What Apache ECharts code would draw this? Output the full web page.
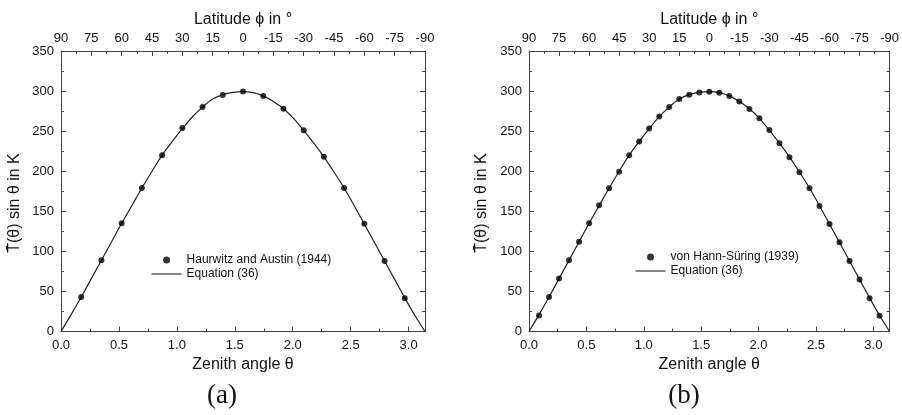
<!DOCTYPE html>
<html>
<head>
<meta charset="utf-8">
<script src="https://cdn.jsdelivr.net/npm/echarts@6/dist/echarts.min.js"></script>
<style>
  html, body { margin: 0; padding: 0; background: #fff; }
  #chart { width: 902px; height: 415px; }
</style>
</head>
<body>
<div id="chart"></div>
<script>
// Equation (36) curve, sampled every 5 degrees of latitude
const eqLatitudes = [90, 85, 80, 75, 70, 65, 60, 55, 50, 45, 40, 35, 30, 25, 20, 15, 10, 5, 0,
  -5, -10, -15, -20, -25, -30, -35, -40, -45, -50, -55, -60, -65, -70, -75, -80, -85, -90];
const eqValues = [0, 21, 43, 66, 89, 112, 135, 157, 179, 200, 220, 237, 253, 268, 280, 290, 295.5, 298.3, 299.3,
  298, 294, 287, 278, 266, 251, 235, 218, 199, 179, 157, 134, 111, 88, 65, 42, 20, 0];

// Haurwitz and Austin (1944), every 10 degrees
const haurwitzLatitudes = [80, 70, 60, 50, 40, 30, 20, 10, 0, -10, -20, -30, -40, -50, -60, -70, -80];
const haurwitzValues = [43, 89, 135, 179, 220, 254, 280, 295, 299.5, 294, 278, 251, 218, 179, 134.5, 88, 41.5];

// von Hann-Süring (1939), every 5 degrees
const hannLatitudes = [85, 80, 75, 70, 65, 60, 55, 50, 45, 40, 35, 30, 25, 20, 15, 10, 5, 0,
  -5, -10, -15, -20, -25, -30, -35, -40, -45, -50, -55, -60, -65, -70, -75, -80, -85];
const hannValues = [20, 43, 66, 89, 112, 135, 157.5, 178.6, 199.4, 220, 237, 253.4, 268.4, 280, 290, 295.4, 298.3, 299,
  298, 293.7, 287, 277.5, 266, 251.3, 235, 217.3, 198.6, 178.6, 156.6, 134.2, 111.3, 88, 64.8, 41.5, 19.5];

const latitudeTicks = { min: -90, max: 90, step: 15 };
const zenithTicks = { min: 0, step: 0.5 };
const tempTicks = { min: 0, max: 350, step: 50 };

const labels = {
  top: 'Latitude \u03d5 in \u00b0',
  bottom: 'Zenith angle \u03b8',
  left: 'T\u0304(\u03b8) sin \u03b8 in K',
  panels: ['(a)', '(b)'],
  eq: 'Equation (36)',
  obs: ['Haurwitz and Austin (1944)', 'von Hann-S\u00fcring (1939)']
};

// zenith angle (rad) from latitude (deg)
const toZenith = lat => (90 - lat) * Math.PI / 180;
const pairs = (lats, vals) => lats.map((lat, i) => [toZenith(lat), vals[i]]);

const FONT = '"Liberation Sans", Arial, sans-serif';
const INK = '#111';
const AXIS = '#444';

const panels = [
  { left: 61, obs: pairs(haurwitzLatitudes, haurwitzValues), name: labels.obs[0], legendLeft: 151, legendTop: 254, tag: labels.panels[0], tagX: 222, titleX: 15 },
  { left: 529, obs: pairs(hannLatitudes, hannValues), name: labels.obs[1], legendLeft: 635, legendTop: 251, tag: labels.panels[1], tagX: 684, titleX: 482 }
];
const GW = 364, GT = 51, GH = 280.5;

const tickCommon = {
  axisLine: { show: true, onZero: false, lineStyle: { color: AXIS, width: 1 } },
  axisTick: { show: true, inside: true, length: 5, lineStyle: { color: AXIS } },
  minorTick: { show: true, splitNumber: 2, length: 3, lineStyle: { color: AXIS } },
  splitLine: { show: false },
  minorSplitLine: { show: false }
};
const labelStyle = { color: INK, fontFamily: FONT, fontSize: 13 };
const nameStyle = { color: INK, fontFamily: FONT, fontSize: 16 };

const grid = [], xAxis = [], yAxis = [], series = [], legend = [], graphic = [];

panels.forEach((p, k) => {
  grid.push({ left: p.left, top: GT, width: GW, height: GH });
  // bottom: zenith angle
  xAxis.push(Object.assign({
    type: 'value', gridIndex: k, position: 'bottom',
    min: zenithTicks.min, max: Math.PI, interval: zenithTicks.step,
    name: labels.bottom, nameLocation: 'middle', nameGap: 17, nameTextStyle: nameStyle,
    axisLabel: Object.assign({ margin: 7, showMaxLabel: false, formatter: v => v.toFixed(1) }, labelStyle)
  }, tickCommon));
  // top: latitude
  xAxis.push(Object.assign({
    type: 'value', gridIndex: k, position: 'top', inverse: true,
    min: latitudeTicks.min, max: latitudeTicks.max, interval: latitudeTicks.step,
    name: labels.top, nameLocation: 'middle', nameGap: 20, nameTextStyle: nameStyle,
    axisLabel: Object.assign({ margin: 6 }, labelStyle)
  }, tickCommon));
  // left: temperature
  yAxis.push(Object.assign({
    type: 'value', gridIndex: k, position: 'left',
    min: tempTicks.min, max: tempTicks.max, interval: tempTicks.step,
    axisLabel: Object.assign({ margin: 7 }, labelStyle)
  }, tickCommon));
  // right: mirrored ticks only
  yAxis.push(Object.assign({
    type: 'value', gridIndex: k, position: 'right',
    min: tempTicks.min, max: tempTicks.max, interval: tempTicks.step,
    axisLabel: { show: false }
  }, tickCommon));

  series.push({
    type: 'line', name: labels.eq, xAxisIndex: 2 * k, yAxisIndex: 2 * k,
    data: pairs(eqLatitudes, eqValues), smooth: 0.3, symbol: 'none', z: 2,
    lineStyle: { color: '#222', width: 1.2 }, itemStyle: { color: 'rgba(0,0,0,0)' }
  });
  series.push({
    type: 'scatter', name: p.name, xAxisIndex: 2 * k, yAxisIndex: 2 * k,
    data: p.obs, symbol: 'circle', symbolSize: 6, symbolKeepAspect: true, z: 3,
    itemStyle: { color: '#000' }
  });

  legend.push({
    orient: 'vertical', left: p.legendLeft, top: p.legendTop, padding: 0,
    itemWidth: 30, itemHeight: 7, itemGap: 2,
    selectedMode: false,
    lineStyle: { width: 1.1, color: '#222' },
    textStyle: { color: INK, fontFamily: FONT, fontSize: 12, lineHeight: 12 },
    data: [{ name: p.name, icon: 'circle' }, { name: labels.eq }]
  });

  graphic.push({
    type: 'text', x: p.titleX, y: GT + 152, rotation: Math.PI / 2,
    style: { text: labels.left, fill: INK, font: '16px ' + FONT, align: 'center', verticalAlign: 'middle' }
  });
  graphic.push({
    type: 'text', x: p.tagX, y: 396,
    style: { text: p.tag, fill: INK, font: '27px "Liberation Serif", "DejaVu Serif", serif', align: 'center', verticalAlign: 'middle' }
  });
});

const chart = echarts.init(document.getElementById('chart'), null, { renderer: 'canvas' });
chart.setOption({
  animation: false,
  backgroundColor: '#fff',
  grid, xAxis, yAxis, series, legend, graphic
});
</script>
</body>
</html>
